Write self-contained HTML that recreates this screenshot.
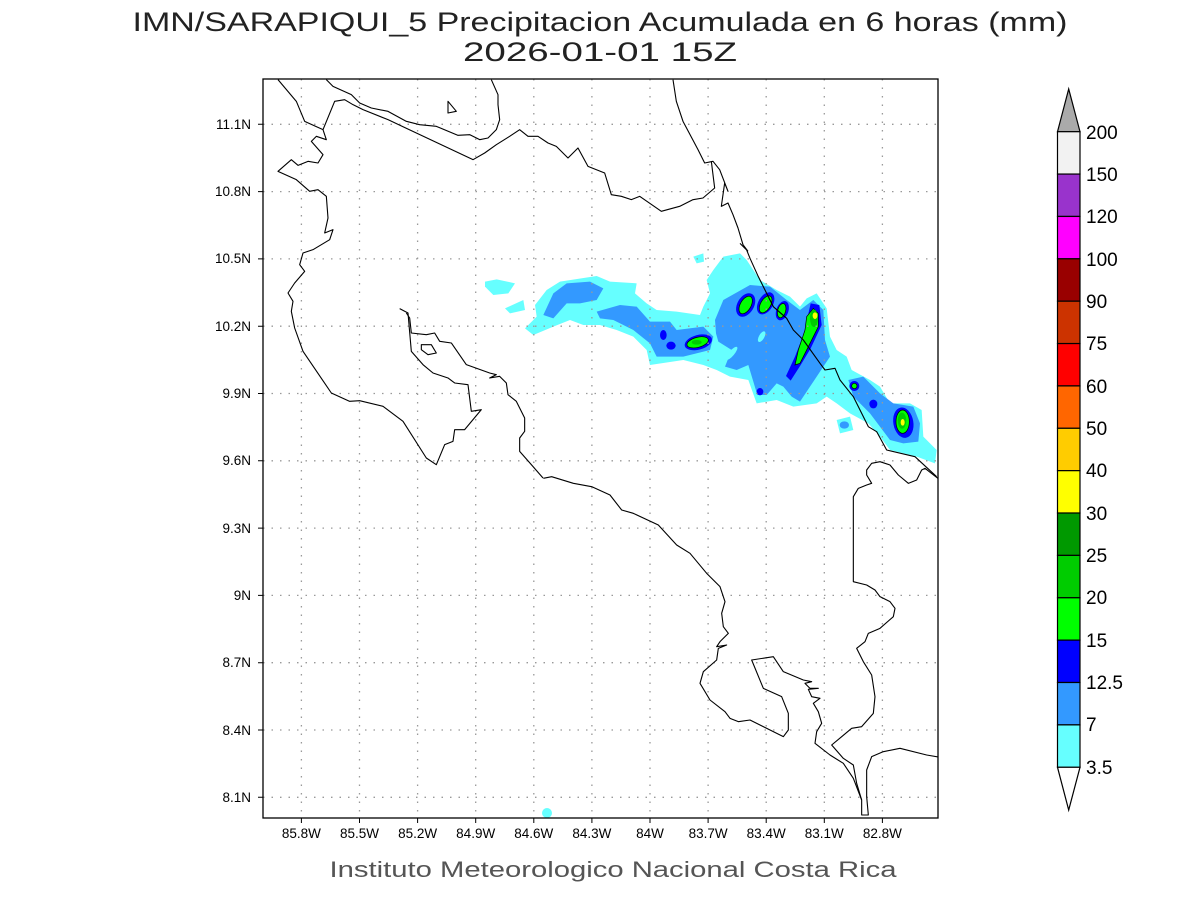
<!DOCTYPE html>
<html><head><meta charset="utf-8"><style>
html,body{margin:0;padding:0;background:#fff;}
svg{display:block;}
text{font-family:"Liberation Sans",sans-serif;fill:#000;}
</style></head><body>
<svg width="1200" height="900" viewBox="0 0 1200 900" xmlns="http://www.w3.org/2000/svg">
<rect width="1200" height="900" fill="#fff"/>
<text x="600" y="31" font-size="27" text-anchor="middle" textLength="935" lengthAdjust="spacingAndGlyphs" style="fill:#222">IMN/SARAPIQUI_5 Precipitacion Acumulada en 6 horas (mm)</text>
<text x="600" y="61" font-size="27" text-anchor="middle" textLength="274" lengthAdjust="spacingAndGlyphs" style="fill:#222">2026-01-01 15Z</text>
<defs><clipPath id="pc"><rect x="263" y="79" width="675" height="739"/></clipPath></defs>
<g clip-path="url(#pc)">
<g transform="translate(470,250) scale(0.33333)">
<g fill="#66ffff">
<path d="M45,95 L80,88 L135,100 L115,130 L70,135 L45,110Z"/>
<path d="M105,175 L160,150 L165,180 L120,190Z"/>
<path d="M670,20 L700,10 L702,35 L680,40Z"/>
<path d="M1100,510 L1140,500 L1150,540 L1110,550Z"/>
<path d="M165,235 L200,200 L195,165 L230,120 L270,95 L380,78 L420,95 L500,100 L495,130 L530,160 L560,180 L620,185 L690,195 L700,170 L720,130 L710,90 L730,60 L760,20 L810,10 L830,30 L870,90 L920,120 L960,140 L990,170 L1010,145 L1040,130 L1070,175 L1080,260 L1100,300 L1130,320 L1145,360 L1200,390 L1230,410 L1260,460 L1320,460 L1355,480 L1360,560 L1400,600 L1395,640 L1340,620 L1260,600 L1230,560 L1195,520 L1140,490 L1100,460 L1070,440 L1040,460 L970,470 L920,450 L860,460 L835,390 L780,380 L740,360 L700,345 L640,330 L540,345 L530,300 L490,260 L440,240 L390,225 L340,225 L300,210 L250,230 L190,255Z"/>
</g>
<g fill="#3399ff">
<path d="M220,195 L250,130 L290,100 L360,95 L400,115 L380,150 L330,160 L290,160 L250,205Z"/>
<path d="M380,185 L450,165 L500,170 L540,215 L600,215 L620,240 L700,230 L730,260 L720,300 L640,320 L560,320 L540,280 L490,240 L430,210 L390,205Z"/>
<path d="M735,210 L760,150 L840,105 L900,110 L950,150 L990,180 L1030,150 L1060,180 L1065,270 L1080,320 L1050,365 L1020,410 L990,455 L965,440 L940,410 L920,400 L890,435 L862,435 L850,395 L835,345 L800,360 L765,350 L785,300 L745,275 L738,250Z"/>
<path d="M1135,390 L1180,380 L1230,430 L1270,460 L1330,470 L1350,520 L1345,575 L1300,580 L1260,570 L1200,490 L1150,440Z"/>
<ellipse cx="1123" cy="525" rx="14" ry="11"/>
</g>
<g fill="#66ffff">
<ellipse cx="875" cy="260" rx="8" ry="18" transform="rotate(30 875 260)"/>
<ellipse cx="785" cy="310" rx="8" ry="25" transform="rotate(40 785 310)"/>
</g>
<g fill="#0000ff">
<ellipse cx="580" cy="255" rx="10" ry="15"/>
<ellipse cx="603" cy="287" rx="14" ry="12"/>
<ellipse cx="685" cy="277" rx="42" ry="22" transform="rotate(-15 685 277)"/>
<ellipse cx="827" cy="165" rx="25" ry="38" transform="rotate(30 827 165)"/>
<ellipse cx="887" cy="160" rx="22" ry="36" transform="rotate(30 887 160)"/>
<ellipse cx="937" cy="182" rx="18" ry="30" transform="rotate(20 937 182)"/>
<path d="M1022,160 L1048,165 L1055,225 L1022,295 L992,345 L962,392 L948,378 L975,320 L1002,250Z"/>
<circle cx="1153" cy="408" r="15"/>
<ellipse cx="1210" cy="462" rx="12" ry="13"/>
<ellipse cx="870" cy="425" rx="10" ry="11"/>
<ellipse cx="1300" cy="518" rx="30" ry="46" transform="rotate(-10 1300 518)"/>
</g>
<g fill="#00ff00" stroke="#000" stroke-width="2">
<ellipse cx="683" cy="277" rx="33" ry="15" transform="rotate(-15 683 277)"/>
<ellipse cx="827" cy="165" rx="16" ry="29" transform="rotate(30 827 165)"/>
<ellipse cx="887" cy="163" rx="15" ry="28" transform="rotate(30 887 163)"/>
<ellipse cx="935" cy="182" rx="12" ry="22" transform="rotate(15 935 182)"/>
<path d="M1030,175 L1045,190 L1045,230 L1015,290 L990,340 L975,345 L985,300 L1005,240 L1010,200Z"/>
<circle cx="1153" cy="408" r="8"/>
<ellipse cx="1298" cy="515" rx="20" ry="35"/>
</g>
<g fill="#00cc00">
<ellipse cx="1032" cy="205" rx="12" ry="26"/>
<ellipse cx="1296" cy="512" rx="13" ry="24"/>
<ellipse cx="680" cy="277" rx="15" ry="7"/>
</g>
<g fill="#ffff00">
<ellipse cx="1035" cy="197" rx="7" ry="10"/>
<ellipse cx="1298" cy="517" rx="6" ry="10"/>
</g>
</g>
<circle cx="547" cy="813" r="5" fill="#66ffff"/>
<g stroke="#999" stroke-width="1.3" stroke-dasharray="1.5,7">
<path d="M301.4,79V818M359.5,79V818M417.6,79V818M475.7,79V818M533.8,79V818M591.9,79V818M650,79V818M708.1,79V818M766.2,79V818M824.3,79V818M882.4,79V818"/>
<path d="M263,124.3H938M263,191.6H938M263,258.9H938M263,326.2H938M263,393.5H938M263,460.8H938M263,528.1H938M263,595.4H938M263,662.7H938M263,730H938M263,797.3H938"/>
</g>
<g fill="none" stroke="#000" stroke-width="1.1" stroke-linejoin="round">
<g transform="translate(263,78) scale(0.33333)">
<polyline vector-effect="non-scaling-stroke" points="45,5 100,70 125,130 180,155 190,185 160,175 145,190 180,230 165,255 135,250 105,262 85,245 45,280 100,305 140,340 165,335 190,355 195,420 185,465 210,455 200,485 150,515 120,525 110,560 125,580 95,615 75,645 90,670 85,700 95,750 120,820 205,945 260,970 290,968 360,985 420,1030 490,1140 520,1160 545,1100 570,1090 575,1055 605,1055 655,995 625,1000 615,920 575,915 555,900 510,885 480,860 445,820 435,705 410,692"/>
<polyline vector-effect="non-scaling-stroke" points="430,705 440,720 445,765 490,770 515,765 530,790 565,795 610,860 680,885 700,890 680,900 710,895 730,915 735,950 760,970 785,1020 785,1060 770,1080 770,1120 805,1160 840,1200"/>
<polyline vector-effect="non-scaling-stroke" points="190,5 210,25 265,50 290,75 325,90 375,100 430,130 470,140 520,145 585,172 620,170 650,185 675,180 700,155 710,125 705,80 705,50 685,5"/>
<polyline vector-effect="non-scaling-stroke" points="180,155 215,70 245,65 270,80 300,95 375,125 630,245 665,225 700,200 740,175 770,155 795,175 825,175 855,195 880,205 915,240 945,210 975,265 1025,285 1045,350 1075,355 1105,365 1130,355 1195,400 1250,385 1290,365 1320,360 1355,330 1345,250"/>
<polyline vector-effect="non-scaling-stroke" points="1230,5 1240,70 1260,130 1305,215 1325,255 1350,250 1370,275 1395,340 1385,315 1375,385 1395,375 1410,410 1425,450 1440,500 1455,520"/>
<polygon vector-effect="non-scaling-stroke" points="555,70 580,100 555,105"/>
<polygon vector-effect="non-scaling-stroke" points="475,800 505,800 520,825 495,830 475,815"/>
</g>
<g transform="translate(470,250) scale(0.33333)">
<polyline vector-effect="non-scaling-stroke" points="810,-20 830,0 840,25 865,80 890,130 910,170 950,205 970,240 1000,270 1050,340 1065,360 1095,355 1110,390 1150,440 1195,530 1220,545 1250,600 1335,620 1400,680"/>
</g>
<g transform="translate(480,420) scale(0.33333)">
<polyline vector-effect="non-scaling-stroke" points="190,175 215,170 280,190 335,200 390,225 425,270 460,280 535,315 590,375 630,400 680,460 720,500 735,545 725,580 730,620 745,640 720,665 710,680 740,675 715,685 710,720 670,755 660,790 690,840 735,875 750,895 775,905 810,900 910,950 925,930 925,880 905,830 850,805 815,720 880,710 910,755 970,780 995,785 975,790 990,805 1015,805 985,808 995,830 1020,835 1000,850 1015,875 1025,910 1010,935 1005,970 1050,1005 1090,1030 1120,1075 1145,1140 1145,1185 1165,1185 1160,1130 1160,1050 1175,1010 1210,995 1260,985 1340,1005 1380,1012"/>
<polyline vector-effect="non-scaling-stroke" points="1145,1140 1130,1090 1120,1035 1090,1015 1055,975 1085,950 1115,925 1145,920 1180,880 1185,830 1175,765 1150,725 1130,685 1155,665 1165,640 1200,625 1240,590 1245,565 1230,545 1200,530 1185,510 1160,495 1120,485 1120,230 1135,205 1160,195 1175,190 1160,165 1160,150 1175,130 1200,125 1230,135 1255,165 1285,190 1310,180 1325,150 1335,145 1380,180"/>
</g>
</g>
</g>
<rect x="263" y="79" width="675" height="739" fill="none" stroke="#000" stroke-width="1.3"/>
<g stroke="#000" stroke-width="1">
<path d="M301.4,818v5M359.5,818v5M417.6,818v5M475.7,818v5M533.8,818v5M591.9,818v5M650,818v5M708.1,818v5M766.2,818v5M824.3,818v5M882.4,818v5"/>
<path d="M263,124.3h-5M263,191.6h-5M263,258.9h-5M263,326.2h-5M263,393.5h-5M263,460.8h-5M263,528.1h-5M263,595.4h-5M263,662.7h-5M263,730h-5M263,797.3h-5"/>
</g>
<g font-size="13.5" text-anchor="middle">
<text x="301.4" y="838">85.8W</text><text x="359.5" y="838">85.5W</text><text x="417.6" y="838">85.2W</text><text x="475.7" y="838">84.9W</text><text x="533.8" y="838">84.6W</text><text x="591.9" y="838">84.3W</text><text x="650" y="838">84W</text><text x="708.1" y="838">83.7W</text><text x="766.2" y="838">83.4W</text><text x="824.3" y="838">83.1W</text><text x="882.4" y="838">82.8W</text>
</g>
<g font-size="13.5" text-anchor="end">
<text x="251" y="129">11.1N</text><text x="251" y="196">10.8N</text><text x="251" y="263">10.5N</text><text x="251" y="331">10.2N</text><text x="251" y="398">9.9N</text><text x="251" y="465">9.6N</text><text x="251" y="533">9.3N</text><text x="251" y="600">9N</text><text x="251" y="667">8.7N</text><text x="251" y="735">8.4N</text><text x="251" y="802">8.1N</text>
</g>
<text x="613" y="877" font-size="22" text-anchor="middle" textLength="567" lengthAdjust="spacingAndGlyphs" style="fill:#555">Instituto Meteorologico Nacional Costa Rica</text>
<g stroke="#000" stroke-width="1.2">
<polygon points="1057.5,131.7 1080,131.7 1068.7,89" fill="#aaaaaa"/>
<rect x="1057.5" y="131.7" width="22.5" height="42.37" fill="#f2f2f2"/>
<rect x="1057.5" y="174.07" width="22.5" height="42.37" fill="#9933cc"/>
<rect x="1057.5" y="216.44" width="22.5" height="42.37" fill="#ff00ff"/>
<rect x="1057.5" y="258.81" width="22.5" height="42.37" fill="#990000"/>
<rect x="1057.5" y="301.18" width="22.5" height="42.37" fill="#cc3300"/>
<rect x="1057.5" y="343.55" width="22.5" height="42.37" fill="#ff0000"/>
<rect x="1057.5" y="385.92" width="22.5" height="42.37" fill="#ff6600"/>
<rect x="1057.5" y="428.29" width="22.5" height="42.37" fill="#ffcc00"/>
<rect x="1057.5" y="470.66" width="22.5" height="42.37" fill="#ffff00"/>
<rect x="1057.5" y="513.03" width="22.5" height="42.37" fill="#009900"/>
<rect x="1057.5" y="555.4" width="22.5" height="42.37" fill="#00cc00"/>
<rect x="1057.5" y="597.77" width="22.5" height="42.37" fill="#00ff00"/>
<rect x="1057.5" y="640.14" width="22.5" height="42.37" fill="#0000ff"/>
<rect x="1057.5" y="682.51" width="22.5" height="42.37" fill="#3399ff"/>
<rect x="1057.5" y="724.88" width="22.5" height="42.37" fill="#66ffff"/>
<polygon points="1057.5,767.3 1080,767.3 1068.7,810" fill="#ffffff"/>
</g>
<g font-size="19">
<text x="1086" y="139">200</text><text x="1086" y="181">150</text><text x="1086" y="223">120</text><text x="1086" y="266">100</text><text x="1086" y="308">90</text><text x="1086" y="350">75</text><text x="1086" y="393">60</text><text x="1086" y="435">50</text><text x="1086" y="477">40</text><text x="1086" y="520">30</text><text x="1086" y="562">25</text><text x="1086" y="604">20</text><text x="1086" y="647">15</text><text x="1086" y="689">12.5</text><text x="1086" y="731">7</text><text x="1086" y="774">3.5</text>
</g>
</svg>
</body></html>
